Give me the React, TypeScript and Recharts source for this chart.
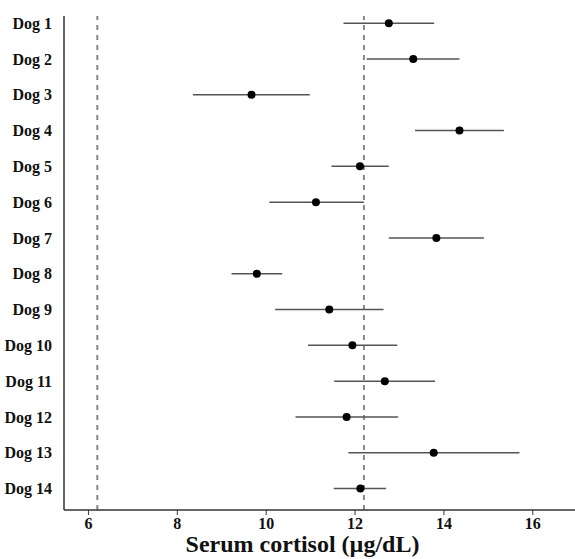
import { ComposedChart, Scatter, ErrorBar, XAxis, YAxis, ReferenceLine } from "recharts";

const dogs = ["Dog 1", "Dog 2", "Dog 3", "Dog 4", "Dog 5", "Dog 6", "Dog 7", "Dog 8", "Dog 9", "Dog 10", "Dog 11", "Dog 12", "Dog 13", "Dog 14"];
const means = [12.76, 13.31, 9.67, 14.35, 12.11, 11.12, 13.83, 9.79, 11.42, 11.94, 12.67, 11.81, 13.77, 12.12];
const lows = [11.74, 12.26, 8.35, 13.35, 11.47, 10.07, 12.76, 9.22, 10.2, 10.94, 11.53, 10.66, 11.85, 11.52];
const highs = [13.78, 14.35, 10.98, 15.35, 12.76, 12.2, 14.9, 10.36, 12.64, 12.95, 13.8, 12.97, 15.7, 12.7];
const xTicks = [6, 8, 10, 12, 14, 16];
const refLines = [6.2, 12.2];

const data = dogs.map((d, i) => ({
  idx: i + 1,
  name: d,
  value: means[i],
  err: [means[i] - lows[i], highs[i] - means[i]],
}));

const font = "'Liberation Serif', 'Times New Roman', serif";

export default function App() {
  return (
    <div style={{ position: "absolute", left: 0, top: 0, background: "#fff" }}>
      <ComposedChart width={575} height={559} data={data} margin={{ top: 16, right: 0, bottom: 0, left: 0 }}>
        <XAxis
          type="number"
          dataKey="value"
          domain={[5.45, 16.95]}
          ticks={xTicks}
          allowDataOverflow
          height={49}
          stroke="#333"
          axisLine={{ stroke: "#333", strokeWidth: 1.5 }}
          tickLine={{ stroke: "#333" }}
          tickSize={5}
          tickMargin={3}
          tick={{ fill: "#111", fontFamily: font, fontWeight: 700, fontSize: 16 }}
          label={{
            value: "Serum cortisol (µg/dL)",
            position: "insideBottom",
            dx: -17,
            dy: -2,
            fill: "#111",
            style: { fontFamily: font, fontWeight: 700, fontSize: 24 },
          }}
        />
        <YAxis
          type="number"
          dataKey="idx"
          domain={[0.8, 14.6]}
          reversed
          ticks={data.map((d) => d.idx)}
          tickFormatter={(v: number) => dogs[v - 1]}
          width={64}
          axisLine={{ stroke: "#333", strokeWidth: 1.5 }}
          tickLine={false}
          tickMargin={6}
          tick={{ fill: "#111", fontFamily: font, fontWeight: 700, fontSize: 16 }}
        />
        {refLines.map((x) => (
          <ReferenceLine key={x} x={x} stroke="#888" strokeWidth={2} strokeDasharray="5 5" />
        ))}
        <Scatter data={data} dataKey="value" fill="#000" isAnimationActive={false} shape={(p: any) => <circle cx={p.cx} cy={p.cy} r={4} fill="#000" />}>
          <ErrorBar dataKey="err" direction="x" width={0} stroke="#555" strokeWidth={1.5} />
        </Scatter>
      </ComposedChart>
    </div>
  );
}
